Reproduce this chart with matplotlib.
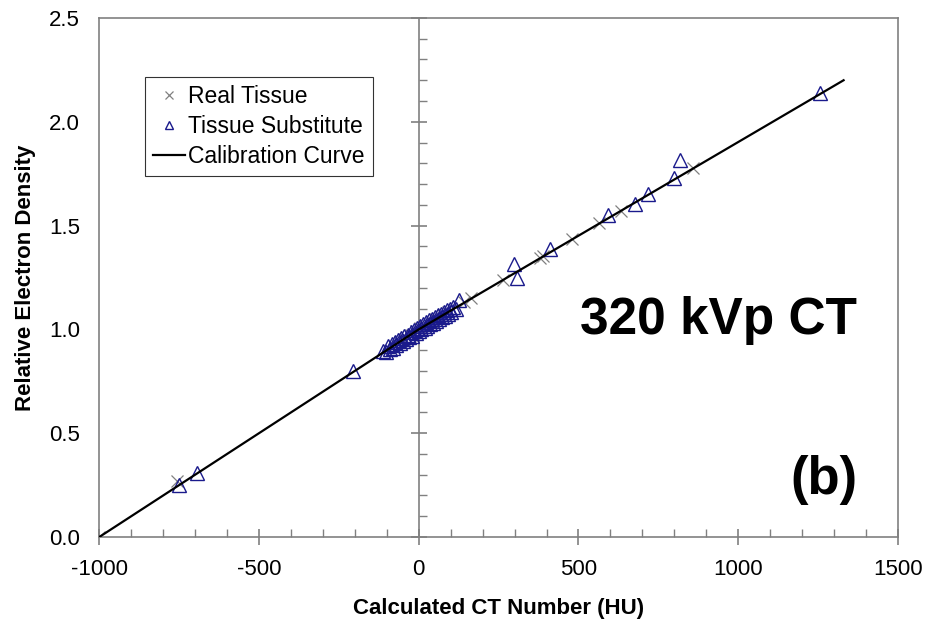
import matplotlib
matplotlib.use("Agg")
import matplotlib.pyplot as plt
from matplotlib.ticker import MultipleLocator, FormatStrFormatter

plt.rcParams['font.family'] = ['Liberation Sans', 'DejaVu Sans']
plt.rcParams['axes.unicode_minus'] = False

# Real tissue (x markers)
real_hu = [-1000, -756, -60, -45, -25, -10, 5, 20, 40, 55, 75, 90,
           140, 162, 265, 378, 390, 479, 564, 633, 858]
real_red = [0.0, 0.27, 0.94, 0.955, 0.975, 0.99, 1.005, 1.018, 1.035, 1.05, 1.068, 1.082,
            1.13, 1.15, 1.24, 1.345, 1.355, 1.435, 1.51, 1.57, 1.775]

# Tissue substitutes (triangles)
sub_hu = [-750, -695, -205, -113,
          -102, -95, -90, -85, -80, -76, -70, -66, -60, -55, -50, -45, -40, -35, -30,
          -25, -20, -15, -10, -5, 0, 4, 8, 13, 18, 22, 27, 32, 36, 41, 46, 50, 55,
          60, 64, 68, 73, 78, 82, 87, 92, 97, 102, 108, 115, 125,
          298, 309, 411, 591, 676, 719, 800, 818, 1257]
sub_red = [0.25, 0.31, 0.80, 0.895,
           0.892, 0.918, 0.905, 0.930, 0.912, 0.940, 0.925, 0.948, 0.935, 0.958, 0.945,
           0.966, 0.952, 0.975, 0.962, 0.985, 0.970, 0.995, 0.980, 1.008, 0.990,
           1.018, 1.000, 1.025, 1.008, 1.035, 1.015, 1.043, 1.025, 1.050, 1.032,
           1.058, 1.040, 1.068, 1.048, 1.075, 1.058, 1.085, 1.065, 1.092, 1.072,
           1.100, 1.082, 1.108, 1.098, 1.14,
           1.315, 1.245, 1.385, 1.55, 1.605, 1.65, 1.73, 1.815, 2.14]

# Calibration curve (bilinear)
cal_hu = [-1000, 0, 1330]
cal_red = [0.0, 1.0, 2.2]

grey = '#808080'
navy = '#1a1a8c'

fig = plt.figure(figsize=(9.29, 6.2), dpi=100)
ax = fig.add_axes([0.107, 0.134, 0.8595, 0.837])

ax.plot(real_hu, real_red, linestyle='none', marker='x', color=grey,
        markersize=9, markeredgewidth=0.9, label='Real Tissue', zorder=3)
ax.plot(sub_hu, sub_red, linestyle='none', marker='^', markerfacecolor='none',
        markeredgecolor=navy, markersize=10, markeredgewidth=1.0,
        label='Tissue Substitute', zorder=4)
ax.plot(cal_hu, cal_red, color='black', linewidth=1.6, label='Calibration Curve', zorder=5)

ax.set_xlim(-1000, 1500)
ax.set_ylim(0, 2.5)
ax.xaxis.set_major_locator(MultipleLocator(500))
ax.xaxis.set_minor_locator(MultipleLocator(100))
ax.yaxis.set_major_locator(MultipleLocator(0.5))
ax.yaxis.set_major_formatter(FormatStrFormatter('%.1f'))

for s in ax.spines.values():
    s.set_color(grey)
    s.set_linewidth(1.2)

ax.tick_params(axis='x', which='major', direction='inout', length=12, width=1.2,
               color=grey, labelsize=16, pad=10)
ax.tick_params(axis='x', which='minor', direction='in', length=6, width=1.0, color=grey)
ax.tick_params(axis='y', which='both', length=0, labelsize=16, pad=14)

# y axis line at HU = 0 with tick marks
ax2 = ax.twinx()
ax2.set_ylim(0, 2.5)
ax2.spines['right'].set_position(('data', 0))
ax2.spines['right'].set_color(grey)
ax2.spines['right'].set_linewidth(1.2)
for k in ['left', 'top', 'bottom']:
    ax2.spines[k].set_visible(False)
ax2.yaxis.set_major_locator(MultipleLocator(0.5))
ax2.yaxis.set_minor_locator(MultipleLocator(0.1))
ax2.tick_params(axis='y', which='major', direction='inout', length=12, width=1.2,
                color=grey, labelright=False)
ax2.tick_params(axis='y', which='minor', direction='out', length=6, width=1.0, color=grey)
ax2.set_zorder(ax.get_zorder() - 1)
ax.patch.set_visible(False)

ax.set_xlabel('Calculated CT Number (HU)', fontsize=16, fontweight='bold', labelpad=13)
ax.set_ylabel('Relative Electron Density', fontsize=16, fontweight='bold', labelpad=9)

leg = ax.legend(loc='upper left', bbox_to_anchor=(0.057, 0.886), borderaxespad=0,
                fontsize=16.5, markerscale=0.6, handlelength=1.4, handletextpad=0.15,
                labelspacing=0.3, borderpad=0.35, fancybox=False, frameon=True)
leg.get_frame().set_edgecolor('black')
leg.get_frame().set_linewidth(0.8)

ax.text(0.949, 0.418, '320 kVp CT', transform=ax.transAxes, ha='right', va='center',
        fontsize=37, fontweight='bold')
ax.text(0.95, 0.11, '(b)', transform=ax.transAxes, ha='right', va='center',
        fontsize=38, fontweight='bold')

fig.savefig('out.png', dpi=100)
